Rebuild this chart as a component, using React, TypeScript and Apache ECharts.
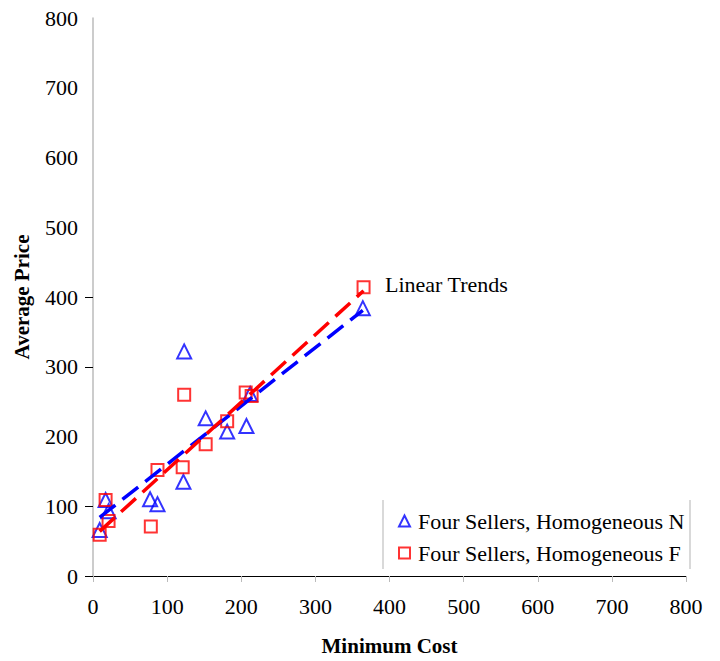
import React, { useEffect, useRef } from "react";
import * as echarts from "echarts";

// Minimum cost (x) for each observation
const costN = [9, 17, 21, 77, 87, 122, 123, 152, 181, 207, 212, 364];
const priceN = [66, 109, 93, 110, 103, 135, 322, 226, 207, 215, 261, 384];
const costF = [9, 17, 21, 78, 87, 121, 123, 152, 181, 206, 214, 365];
const priceF = [59, 109, 79, 71, 152, 156, 260, 189, 222, 263, 258, 414];

// Linear trend endpoints
const trendNx = [9, 364];
const trendNy = [84, 381];
const trendFx = [9, 365];
const trendFy = [64, 409];

const seriesNames = ["Four Sellers, Homogeneous N", "Four Sellers, Homogeneous F"];

const FONT = "'Liberation Serif', 'Times New Roman', serif";

export default function App() {
  const ref = useRef<HTMLDivElement>(null);
  useEffect(() => {
    if (!ref.current) return;
    const chart = echarts.init(ref.current, null, { renderer: "svg" });
    const pairs = (xs: number[], ys: number[]) => xs.map((x, i) => [x, ys[i]]);
    chart.setOption({
      animation: false,
      backgroundColor: "#ffffff",
      grid: { left: 93, right: 34, top: 18, bottom: 84, containLabel: false },
      xAxis: {
        type: "value",
        min: 0,
        max: 800,
        interval: 100,
        name: "Minimum Cost",
        nameLocation: "middle",
        nameGap: 59,
        nameTextStyle: { fontFamily: FONT, fontSize: 21, fontWeight: "bold", color: "#000" },
        axisLine: { show: true, lineStyle: { color: "#000", width: 1 } },
        axisTick: { show: true, length: 6, lineStyle: { color: "#bbbbbb" } },
        axisLabel: { fontFamily: FONT, fontSize: 22, color: "#000", margin: 19 },
        splitLine: { show: false },
      },
      yAxis: {
        type: "value",
        min: 0,
        max: 800,
        interval: 100,
        name: "Average Price",
        nameLocation: "middle",
        nameGap: 61,
        nameTextStyle: { fontFamily: FONT, fontSize: 21, fontWeight: "bold", color: "#000" },
        axisLine: { show: true, lineStyle: { color: "#bbbbbb", width: 1.5 } },
        axisTick: { show: true, length: 8, lineStyle: { color: "#000" }, customValues: [0, 100, 300, 400] },
        axisLabel: { fontFamily: FONT, fontSize: 22, color: "#000", margin: 15 },
        splitLine: { show: false },
      },
      legend: {
        orient: "vertical",
        left: 393,
        top: 505,
        itemGap: 10,
        itemWidth: 11,
        itemHeight: 11,
        data: seriesNames,
        textStyle: { fontFamily: FONT, fontSize: 22, color: "#000", padding: [0, 0, 0, 3] },
      },
      graphic: [
        { type: "line", shape: { x1: 383, y1: 500, x2: 383, y2: 569 }, style: { stroke: "#cccccc", lineWidth: 1.5 } },
        { type: "line", shape: { x1: 690, y1: 500, x2: 690, y2: 569 }, style: { stroke: "#cccccc", lineWidth: 1.5 } },
        {
          type: "text",
          left: 385,
          top: 273,
          style: { text: "Linear Trends", fontFamily: FONT, fontSize: 22, fill: "#000" },
        },
      ],
      series: [
        {
          name: seriesNames[0],
          type: "scatter",
          symbol: "triangle",
          symbolSize: 14,
          data: pairs(costN, priceN),
          itemStyle: { color: "rgba(255,255,255,0)", borderColor: "#0000ff", borderWidth: 2 },
          z: 2,
        },
        {
          name: seriesNames[1],
          type: "scatter",
          symbol: "rect",
          symbolSize: 12,
          data: pairs(costF, priceF),
          itemStyle: { color: "rgba(255,255,255,0)", borderColor: "#ff0000", borderWidth: 2 },
          z: 3,
        },
        {
          name: "Trend N",
          type: "line",
          data: pairs(trendNx, trendNy),
          symbol: "none",
          lineStyle: { color: "#0000ff", width: 3.5, type: [20, 9] },
          z: 4,
        },
        {
          name: "Trend F",
          type: "line",
          data: pairs(trendFx, trendFy),
          symbol: "none",
          lineStyle: { color: "#ff0000", width: 3.5, type: [20, 9] },
          z: 4,
        },
      ],
    });
    return () => chart.dispose();
  }, []);
  return <div ref={ref} style={{ width: 720, height: 661, position: "absolute", left: 0, top: 0 }} />;
}
